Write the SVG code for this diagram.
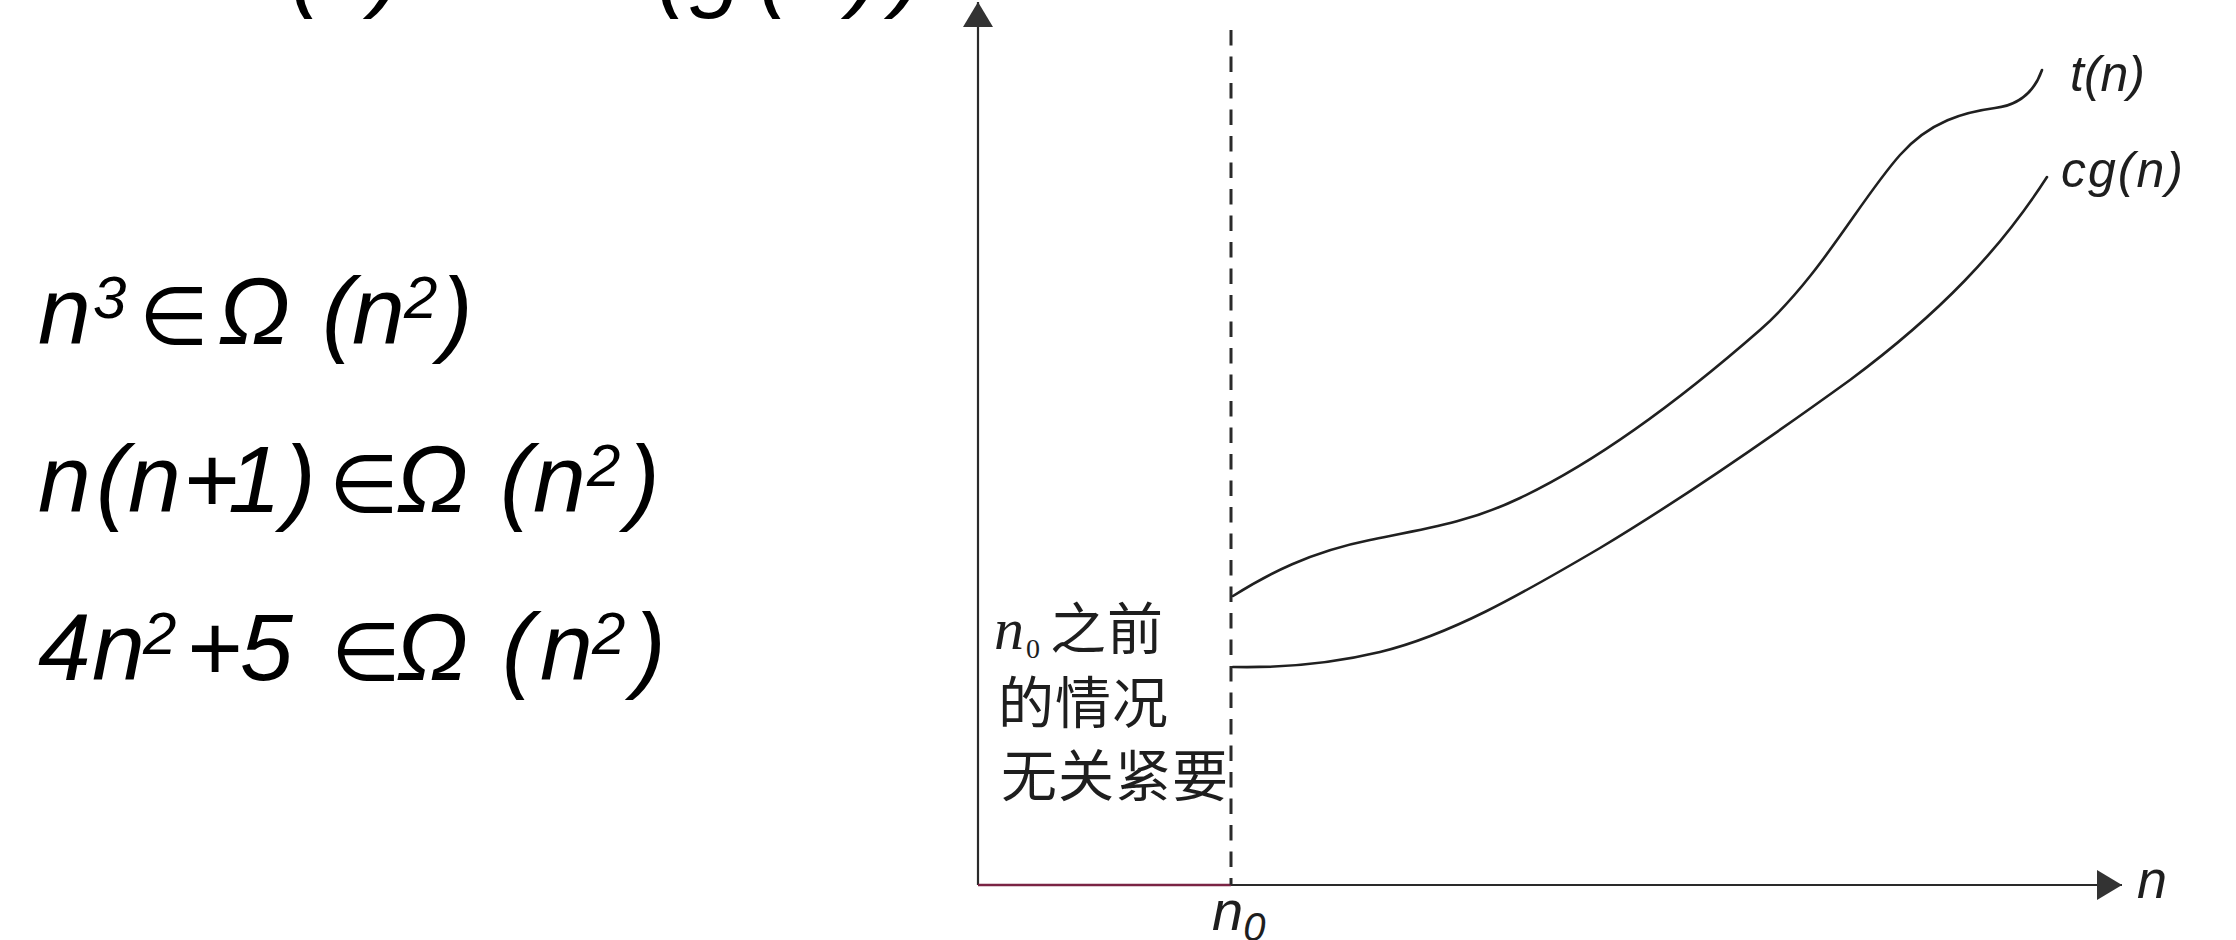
<svg xmlns="http://www.w3.org/2000/svg" width="2236" height="940" viewBox="0 0 2236 940">
  <style>
    .f { font-family: "Liberation Sans", "DejaVu Sans", sans-serif; font-style: italic; font-size: 95px; fill: #000; }
    .sup { font-size: 60px; }
    .el { font-family: "DejaVu Sans", sans-serif; font-style: normal; font-size: 80px; }
    .lbl { font-family: "Liberation Sans", sans-serif; font-style: italic; fill: #1e1e1e; }
    .cjk { font-family: "Noto Sans CJK SC", sans-serif; font-size: 56px; letter-spacing: 1px; fill: #1e1e1e; }
    .axis { stroke: #2a2a2a; stroke-width: 2.2; fill: none; }
    .curve { stroke: #202020; stroke-width: 2.6; fill: none; stroke-linecap: round; stroke-linejoin: round; }
    .dash { stroke: #2a2a2a; stroke-width: 3; stroke-dasharray: 15.5 11; fill: none; }
  </style>
  <defs>
    <marker id="ah" viewBox="0 0 25 30" refX="25" refY="15" markerWidth="25" markerHeight="30" markerUnits="userSpaceOnUse" orient="auto">
      <path d="M0,0 L25,15 L0,30 Z" fill="#333"/>
    </marker>
  </defs>
  <rect width="2236" height="940" fill="#fff"/>

  <g id="title">
    <text class="f" y="-1"><tspan x="262">t</tspan><tspan x="290">(</tspan><tspan x="320">n</tspan><tspan x="372">)</tspan><tspan class="el" x="470">∈</tspan><tspan x="580">Ω</tspan><tspan x="656">(</tspan><tspan x="690">g</tspan><tspan x="758">(</tspan><tspan x="795">n</tspan><tspan x="850">)</tspan><tspan x="893">)</tspan></text>
  </g>

  <g id="formula1">
    <text class="f" y="344"><tspan x="38">n</tspan><tspan class="sup" x="93" y="318">3</tspan><tspan class="el" x="139" y="344">∈</tspan><tspan x="218">Ω</tspan><tspan x="322">(</tspan><tspan x="352">n</tspan><tspan class="sup" x="404" y="318">2</tspan><tspan x="441" y="344">)</tspan></text>
  </g>
  <g id="formula2">
    <text class="f" y="512"><tspan x="38">n</tspan><tspan x="96">(</tspan><tspan x="128">n</tspan><tspan x="183">+</tspan><tspan x="228">1</tspan><tspan x="284">)</tspan><tspan class="el" x="329">∈</tspan><tspan x="396">Ω</tspan><tspan x="500">(</tspan><tspan x="533">n</tspan><tspan class="sup" x="587" y="486">2</tspan><tspan x="628" y="512">)</tspan></text>
  </g>
  <g id="formula3">
    <text class="f" y="680"><tspan x="38">4</tspan><tspan x="92">n</tspan><tspan class="sup" x="143" y="654">2</tspan><tspan x="186" y="680">+</tspan><tspan x="240">5</tspan><tspan class="el" x="331">∈</tspan><tspan x="396">Ω</tspan><tspan x="502">(</tspan><tspan x="540">n</tspan><tspan class="sup" x="592" y="654">2</tspan><tspan x="634" y="680">)</tspan></text>
  </g>

  <g id="axes">
    <line class="axis" x1="978" y1="885" x2="978" y2="2" marker-end="url(#ah)"/>
    <line x1="978" y1="885" x2="1231" y2="885" stroke="#7a2444" stroke-width="2.4"/>
    <line class="axis" x1="1231" y1="885" x2="2122" y2="885" marker-end="url(#ah)"/>
  </g>

  <g id="connectors">
    <line class="dash" x1="1231" y1="30" x2="1231" y2="885"/>
    <path id="tn" class="curve" d="M1233,596 C1268,574 1310,552 1370,540 C1430,528 1470,522 1520,498 C1600,460 1680,400 1760,330 C1820,277 1860,200 1900,155 C1930,121 1965,112 1995,108 C2020,105 2035,90 2042,70"/>
    <path id="cgn" class="curve" d="M1233,667 C1280,668 1330,664 1380,652 C1450,635 1520,595 1600,548 C1680,500 1760,445 1850,380 C1940,313 2000,250 2047,177"/>
  </g>

  <g id="label-tn">
    <text class="lbl" x="2070" y="91" font-size="50">t(n)</text>
  </g>
  <g id="label-cgn">
    <text class="lbl" x="2061" y="187" font-size="50" letter-spacing="2">cg(n)</text>
  </g>
  <g id="label-n">
    <text class="lbl" x="2137" y="898" font-size="54">n</text>
  </g>
  <g id="label-n0">
    <text class="lbl" x="1212" y="930" font-size="56">n<tspan font-size="40" y="941">0</tspan></text>
  </g>

  <g id="note">
    <text class="cjk" y="649"><tspan x="994" font-family="Liberation Serif" font-style="italic" font-size="60">n</tspan><tspan x="1026" y="658" font-family="Liberation Serif" font-size="28">0</tspan><tspan x="1050" y="649">之前</tspan></text>
    <text class="cjk" x="998" y="723">的情况</text>
    <text class="cjk" x="1001" y="796">无关紧要</text>
  </g>
</svg>
